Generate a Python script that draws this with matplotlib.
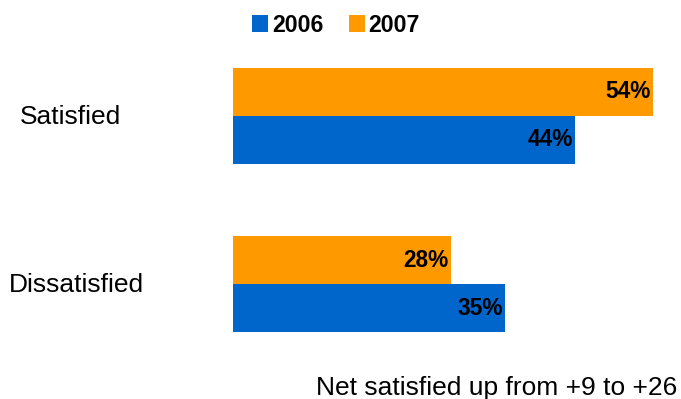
import matplotlib.pyplot as plt
import matplotlib.transforms as mtransforms
import numpy as np

plt.rcParams['font.family'] = ['Liberation Sans', 'DejaVu Sans']

# data
categories = ['Satisfied', 'Dissatisfied']
years = ['2006', '2007']
values_2006 = [44, 35]
values_2007 = [54, 28]
colors = ['#0066CC', '#FF9900']

W, H = 681, 399
fig = plt.figure(figsize=(W / 100, H / 100), dpi=100)
# axes placed in pixel terms: left 233, right 681, top 40, bottom 360
ax = fig.add_axes([233 / W, 1 - 360 / H, (681 - 233) / W, 320 / H])

pos = np.arange(len(categories))
bh = 48 / 168
b06 = ax.barh(pos + bh / 2, values_2006, height=bh, color=colors[0], label=years[0])
b07 = ax.barh(pos - bh / 2, values_2007, height=bh, color=colors[1], label=years[1])

ax.set_xlim(0, 448 / 7.78)
ax.set_ylim(1 + 0.452, -0.452)
ax.axis('off')

for bars, vals in [(b06, values_2006), (b07, values_2007)]:
    for rect, v in zip(bars, vals):
        ax.annotate(f'{v}%', (v, rect.get_y() + rect.get_height() / 2),
                    xytext=(-2, 0), textcoords='offset points',
                    ha='right', va='center', fontsize=16.3, fontweight='bold')

# category labels at the left
trans = mtransforms.blended_transform_factory(fig.transFigure, ax.transData)
for p, name, xc in zip(pos, categories, [70, 76]):
    ax.text(xc / W, p + 0.046, name, transform=trans, ha='center', va='baseline', fontsize=19)

leg = fig.legend(handles=[b06, b07], loc='center', bbox_to_anchor=(336 / W, 1 - 25 / H),
                 ncol=2, frameon=False, handlelength=0.7, handleheight=0.7,
                 handletextpad=0.15, columnspacing=1.1, prop={'size': 16.7, 'weight': 'bold'})

fig.text(497 / W, 1 - 395 / H, 'Net satisfied up from +9 to +26',
         ha='center', va='baseline', fontsize=19)

fig.savefig('out.png', dpi=100)
